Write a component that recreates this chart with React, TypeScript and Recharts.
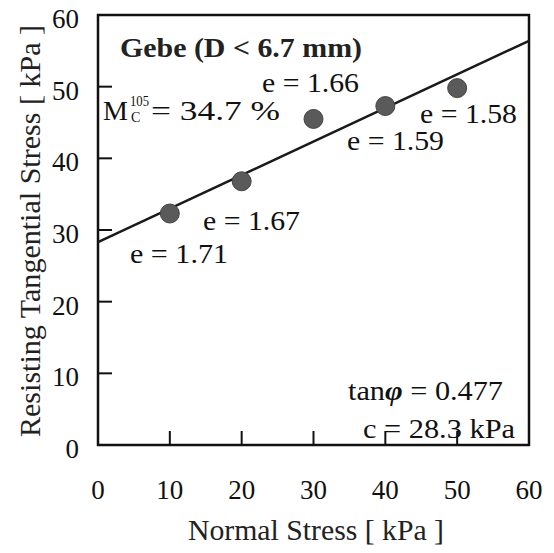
import React from 'react';
import { ComposedChart, XAxis, YAxis, Scatter, Line, ReferenceArea } from 'recharts';

// Data
const normalStress = [10, 20, 30, 40, 50];
const tangentialStress = [32.3, 36.8, 45.5, 47.3, 49.8];
const voidRatioLabels = ['e = 1.71', 'e = 1.67', 'e = 1.66', 'e = 1.59', 'e = 1.58'];
const fitX = [0, 60];
const fitY = [28.3, 56.4];
const xTicks = [0, 10, 20, 30, 40, 50, 60];
const yTicks = [0, 10, 20, 30, 40, 50, 60];

const points = normalStress.map((x, i) => ({ x, y: tangentialStress[i], label: voidRatioLabels[i] }));
const fitLine = fitX.map((x, i) => ({ x, y: fitY[i] }));

const FONT = "'Liberation Serif', 'DejaVu Serif', serif";

const XTick = (props: any) => {
  const { x, y, payload } = props;
  const v = payload.value;
  return (
    <g>
      {v > 0 && v < 60 && <line x1={x} y1={y} x2={x} y2={y - 14} stroke="#111" strokeWidth={2} />}
      <text x={x} y={y + 54} textAnchor="middle" style={{ fontFamily: FONT }} fontSize={27} fill="#111">{v}</text>
    </g>
  );
};

const YTick = (props: any) => {
  const { x, y, payload } = props;
  const v = payload.value;
  return (
    <g>
      {v > 0 && v < 60 && <line x1={x} y1={y} x2={x + 14} y2={y} stroke="#111" strokeWidth={2} />}
      <text x={x - 19} y={y + 13} textAnchor="end" style={{ fontFamily: FONT }} fontSize={27} fill="#111">{v}</text>
    </g>
  );
};

const Dot = (props: any) => {
  const { cx, cy } = props;
  return <circle cx={cx} cy={cy} r={9.5} fill="#5a5a5a" stroke="#444" strokeWidth={1} />;
};

const T = (p: any) => (
  <text style={{ fontFamily: FONT }} fontSize={27} fill="#111" lengthAdjust="spacingAndGlyphs" {...p} />
);

export default function App() {
  return (
    <div style={{ position: 'absolute', left: 0, top: 0, width: 554, height: 553, background: '#fff', fontFamily: FONT }}>
      <ComposedChart
        width={554}
        height={553}
        margin={{ top: 15, right: 25, bottom: 0, left: 0 }}
      >
        <XAxis
          type="number"
          dataKey="x"
          domain={[0, 60]}
          ticks={xTicks}
          interval={0}
          tickSize={0}
          tickMargin={0}
          height={108}
          axisLine={false}
          tick={<XTick />}
        />
        <YAxis
          type="number"
          dataKey="y"
          domain={[0, 60]}
          ticks={yTicks}
          interval={0}
          tickSize={0}
          tickMargin={0}
          width={98}
          axisLine={false}
          tick={<YTick />}
        />
        <ReferenceArea x1={0} x2={60} y1={0} y2={60} fill="none" stroke="#111" strokeWidth={2.5} fillOpacity={0} ifOverflow="visible" />
        <Line
          data={fitLine}
          dataKey="y"
          type="linear"
          stroke="#1a1a1a"
          strokeWidth={2.5}
          dot={false}
          isAnimationActive={false}
        />
        <Scatter data={points} dataKey="y" shape={<Dot />} isAnimationActive={false} />
      </ComposedChart>
      <svg width={554} height={553} style={{ position: 'absolute', left: 0, top: 0, pointerEvents: 'none' }}>
        <T x={120} y={57} fontSize={28} fontWeight="bold" fill="#222" textLength={242}>Gebe (D &lt; 6.7 mm)</T>
        <T x={262} y={92} textLength={97}>{voidRatioLabels[2]}</T>
        <T x={103} y={120} fontSize={28}>M</T>
        <T x={130} y={105.5} fontSize={14} textLength={19}>105</T>
        <T x={131} y={122} fontSize={14}>C</T>
        <T x={151} y={120} textLength={129}>= 34.7 %</T>
        <T x={203} y={230} textLength={97}>{voidRatioLabels[1]}</T>
        <T x={130} y={263} textLength={98}>{voidRatioLabels[0]}</T>
        <T x={347} y={150} textLength={97}>{voidRatioLabels[3]}</T>
        <T x={420} y={123} textLength={97}>{voidRatioLabels[4]}</T>
        <T x={348} y={400} textLength={155}>tan<tspan fontStyle="italic" fontWeight="bold">φ</tspan> = 0.477</T>
        <T x={363} y={438} textLength={152}>c = 28.3 kPa</T>
        <T x={316} y={540} fontSize={29.5} fill="#222" textAnchor="middle" textLength={256}>Normal Stress [ kPa ]</T>
        <T transform="rotate(-90)" x={-231} y={40} fontSize={29.5} fill="#222" textAnchor="middle" textLength={412}>Resisting Tangential Stress [ kPa ]</T>
      </svg>
    </div>
  );
}
